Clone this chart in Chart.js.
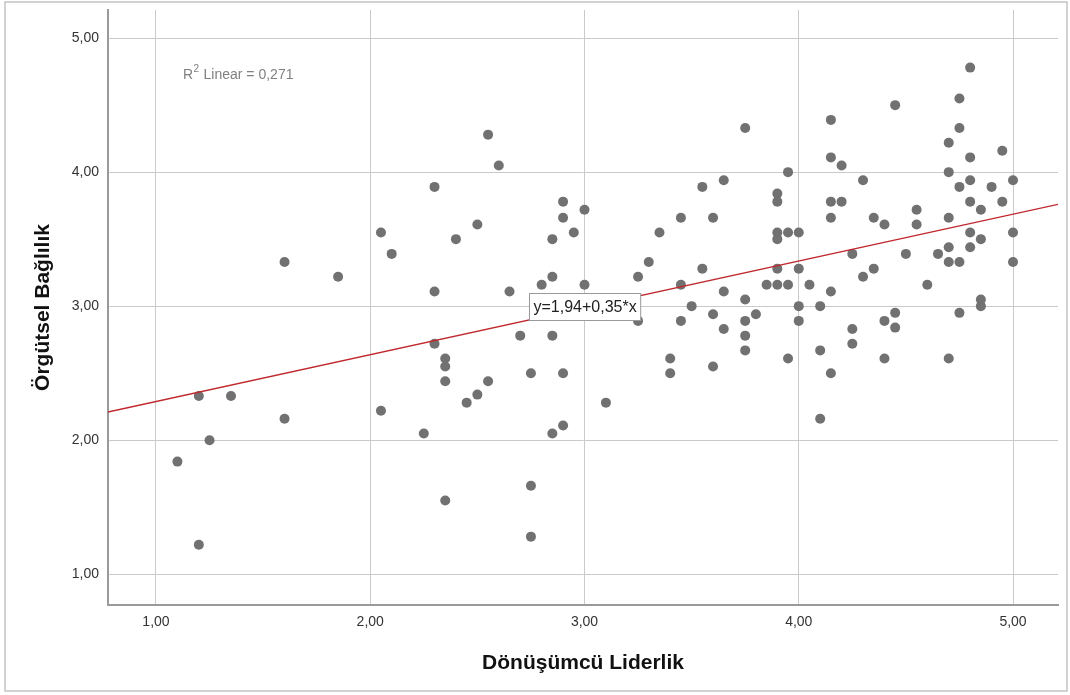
<!DOCTYPE html>
<html>
<head>
<meta charset="utf-8">
<script src="https://cdn.jsdelivr.net/npm/chart.js@4"></script>
<style>
  html, body { margin: 0; padding: 0; background: #fff; }
  #wrap { width: 1070px; height: 695px; position: relative; }
</style>
</head>
<body>
<div id="wrap"><canvas id="chart"></canvas></div>
<script>
// Dönüşümcü Liderlik (x) / Örgütsel Bağlılık (y)
var xs = [1.10, 1.20, 1.20, 1.25, 1.35, 1.60, 1.60, 1.85, 2.05, 2.05,
          2.10, 2.25, 2.30, 2.30, 2.30, 2.35, 2.35, 2.35, 2.35, 2.40,
          2.45, 2.50, 2.50, 2.55, 2.55, 2.60, 2.65, 2.70, 2.75, 2.75,
          2.75, 2.80, 2.85, 2.85, 2.85, 2.85, 2.90, 2.90, 2.90, 2.90,
          2.95, 3.00, 3.00, 3.10, 3.25, 3.25, 3.30, 3.35, 3.40, 3.40,
          3.45, 3.45, 3.45, 3.50, 3.55, 3.55, 3.60, 3.60, 3.60, 3.65,
          3.65, 3.65, 3.75, 3.75, 3.75, 3.75, 3.75, 3.80, 3.85, 3.90,
          3.90, 3.90, 3.90, 3.90, 3.90, 3.95, 3.95, 3.95, 3.95, 4.00,
          4.00, 4.00, 4.00, 4.05, 4.10, 4.10, 4.10, 4.15, 4.15, 4.15,
          4.15, 4.15, 4.15, 4.20, 4.20, 4.25, 4.25, 4.25, 4.30, 4.30,
          4.35, 4.35, 4.40, 4.40, 4.40, 4.45, 4.45, 4.45, 4.50, 4.55,
          4.55, 4.60, 4.65, 4.70, 4.70, 4.70, 4.70, 4.70, 4.70, 4.75,
          4.75, 4.75, 4.75, 4.75, 4.80, 4.80, 4.80, 4.80, 4.80, 4.80,
          4.85, 4.85, 4.85, 4.85, 4.90, 4.95, 4.95, 5.00, 5.00, 5.00];
var ys = [1.84, 1.22, 2.33, 2.00, 2.33, 3.33, 2.16, 3.22, 3.55, 2.22,
          3.39, 2.05, 3.89, 3.11, 2.72, 2.61, 2.55, 2.44, 1.55, 3.50,
          2.28, 3.61, 2.34, 4.28, 2.44, 4.05, 3.11, 2.78, 2.50, 1.66,
          1.28, 3.16, 3.50, 3.22, 2.78, 2.05, 3.78, 3.66, 2.50, 2.11,
          3.55, 3.72, 3.16, 2.28, 3.22, 2.89, 3.33, 3.55, 2.61, 2.50,
          3.66, 3.16, 2.89, 3.00, 3.89, 3.28, 3.66, 2.94, 2.55, 3.94,
          3.11, 2.83, 4.33, 3.05, 2.89, 2.78, 2.67, 2.94, 3.16, 3.84,
          3.78, 3.55, 3.50, 3.28, 3.16, 4.00, 3.55, 3.16, 2.61, 3.55,
          3.28, 3.00, 2.89, 3.16, 3.00, 2.67, 2.16, 4.39, 4.11, 3.78,
          3.66, 3.11, 2.50, 4.05, 3.78, 3.39, 2.83, 2.72, 3.94, 3.22,
          3.66, 3.28, 3.61, 2.89, 2.61, 4.50, 2.95, 2.84, 3.39, 3.72,
          3.61, 3.16, 3.39, 4.22, 4.00, 3.66, 3.44, 3.33, 2.61, 4.55,
          4.33, 3.89, 3.33, 2.95, 4.78, 4.11, 3.94, 3.78, 3.55, 3.44,
          3.72, 3.50, 3.05, 3.00, 3.89, 4.16, 3.78, 3.94, 3.55, 3.33];

// fit line end points, read at the axis edges
var fitX = [0.776, 5.21];
var fitY = [2.21, 3.76];

var xTicks = [1, 2, 3, 4, 5];
var yTicks = [1, 2, 3, 4, 5];
var xTickLabels = ["1,00", "2,00", "3,00", "4,00", "5,00"];
var yTickLabels = ["1,00", "2,00", "3,00", "4,00", "5,00"];

var eqText = "y=1,94+0,35*x";
var r2Text = "Linear = 0,271";

var FONT = "'Liberation Sans', Arial, sans-serif";

var points = xs.map(function (x, i) { return { x: x, y: ys[i] }; });
var fit = fitX.map(function (x, i) { return { x: x, y: fitY[i] }; });

var extras = {
    id: "extras",
    beforeDraw: function (chart) {
        var ctx = chart.ctx;
        ctx.save();
        ctx.strokeStyle = "#c4c4c4";
        ctx.lineWidth = 1.5;
        ctx.strokeRect(5, 2, 1062, 689);
        ctx.restore();
    },
    afterDraw: function (chart) {
        var ctx = chart.ctx, sx = chart.scales.x, sy = chart.scales.y;
        ctx.save();
        // R2 note
        ctx.fillStyle = "#808080";
        ctx.textBaseline = "alphabetic";
        ctx.textAlign = "left";
        ctx.font = "14px " + FONT;
        ctx.fillText("R", 183, 79);
        var w = ctx.measureText("R").width;
        ctx.font = "10px " + FONT;
        ctx.fillText("2", 183 + w + 0.5, 72);
        var w2 = ctx.measureText("2").width;
        ctx.font = "14px " + FONT;
        ctx.fillText(" " + r2Text, 183 + w + w2 + 1, 79);

        // equation box
        var cx = sx.getPixelForValue(3.0), cy = sy.getPixelForValue(3.0);
        ctx.font = "16px " + FONT;
        var tw = ctx.measureText(eqText).width;
        var bw = tw + 8, bh = 27;
        var bx = Math.round(cx - bw / 2) + 0.5, by = Math.round(cy - bh / 2) + 0.5;
        ctx.fillStyle = "#fff";
        ctx.fillRect(bx, by, bw, bh);
        ctx.strokeStyle = "#9a9a9a";
        ctx.lineWidth = 1;
        ctx.strokeRect(bx, by, bw, bh);
        ctx.fillStyle = "#222";
        ctx.textAlign = "center";
        ctx.textBaseline = "middle";
        ctx.fillText(eqText, bx + bw / 2, by + bh / 2 + 1);
        ctx.restore();
    }
};

new Chart(document.getElementById("chart"), {
    type: "scatter",
    data: {
        datasets: [
            { label: "fit", type: "line", data: fit, borderColor: "#c0282d", borderWidth: 1.4, pointRadius: 0, fill: false, order: 1 },
            { label: "points", data: points, backgroundColor: "#717171", borderColor: "#717171", borderWidth: 0, pointRadius: 5, pointHoverRadius: 5, order: 2 }
        ]
    },
    options: {
        responsive: true,
        maintainAspectRatio: false,
        animation: false,
        events: [],
        layout: { padding: { left: 0, top: 10, right: 12, bottom: 0 } },
        plugins: { legend: { display: false }, tooltip: { enabled: false } },
        scales: {
            x: {
                type: "linear",
                min: 0.776, max: 5.21,
                afterBuildTicks: function (s) { s.ticks = xTicks.map(function (v) { return { value: v }; }); },
                afterFit: function (s) { s.height = 90; s.paddingLeft = 0; s.paddingRight = 0; },
                ticks: {
                    padding: 9, color: "#333", font: { family: FONT, size: 14 },
                    callback: function (v) { var i = xTicks.indexOf(v); return i >= 0 ? xTickLabels[i] : ""; }
                },
                grid: { color: "#cacaca", lineWidth: 1, drawTicks: false },
                border: { color: "#9a9a9a", width: 2 },
                title: { display: true, text: "Dönüşümcü Liderlik", color: "#111", font: { family: FONT, size: 21, weight: "bold" }, padding: { top: 0, bottom: 19 } }
            },
            y: {
                type: "linear",
                min: 0.77, max: 5.21,
                afterBuildTicks: function (s) { s.ticks = yTicks.map(function (v) { return { value: v }; }); },
                afterFit: function (s) { s.width = 108; s.paddingTop = 0; s.paddingBottom = 0; },
                ticks: {
                    padding: 9, color: "#333", font: { family: FONT, size: 14 },
                    callback: function (v) { var i = yTicks.indexOf(v); return i >= 0 ? yTickLabels[i] : ""; }
                },
                grid: { color: "#cacaca", lineWidth: 1, drawTicks: false },
                border: { color: "#9a9a9a", width: 2 },
                title: { display: true, text: "Örgütsel Bağlılık", color: "#111", font: { family: FONT, size: 21, weight: "bold" }, padding: { top: 31, bottom: 0 } }
            }
        }
    },
    plugins: [extras]
});
</script>
</body>
</html>
